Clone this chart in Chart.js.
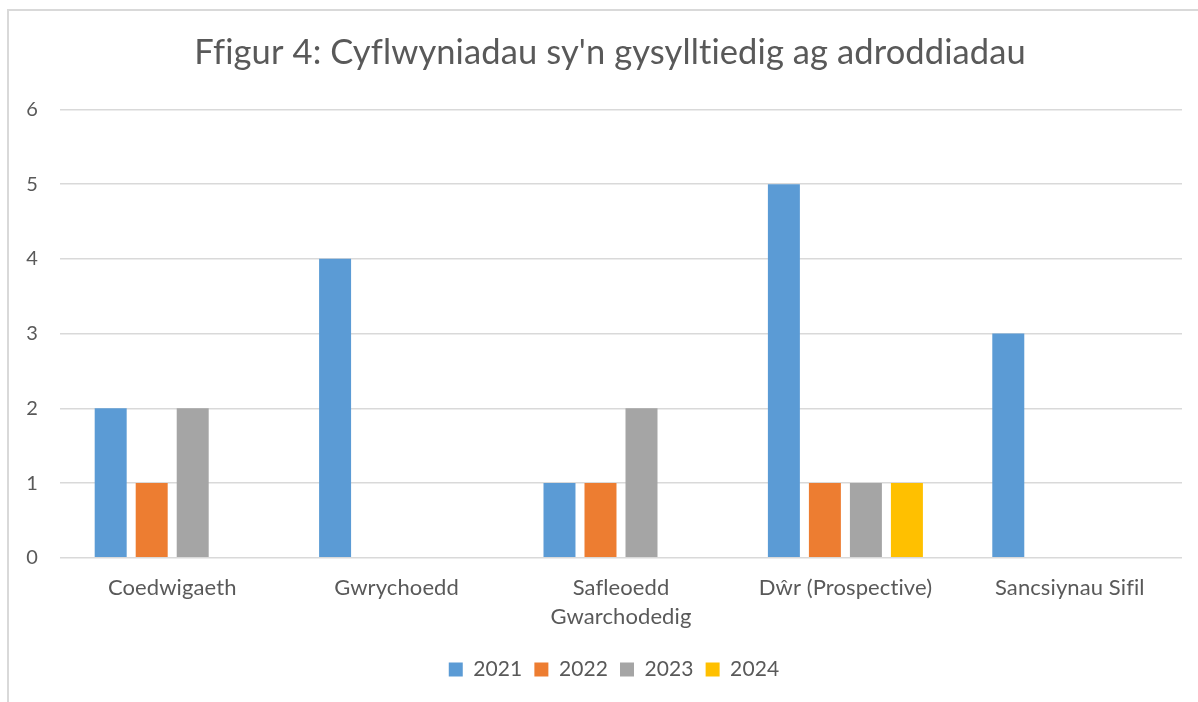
<!DOCTYPE html>
<html>
<head>
<meta charset="utf-8">
<style>
  html, body { margin: 0; padding: 0; background: #fff; overflow: hidden; }
  #wrap { position: relative; width: 1198px; height: 702px; }
</style>
<script src="https://cdn.jsdelivr.net/npm/chart.js@4.4.1/dist/chart.umd.min.js"></script>
</head>
<body>
<div id="wrap"><canvas id="chart" width="1198" height="702"></canvas></div>
<script>
const categories = [
  'Coedwigaeth',
  'Gwrychoedd',
  ['Safleoedd', 'Gwarchodedig'],
  'Dŵr (Prospective)',
  'Sancsiynau Sifil',
];
const seriesNames = ['2021', '2022', '2023', '2024'];
const values2021 = [2, 4, 1, 5, 3];
const values2022 = [1, 0, 1, 1, 0];
const values2023 = [2, 0, 2, 1, 0];
const values2024 = [0, 0, 0, 1, 0];
const seriesColors = ['#5B9BD5', '#ED7D31', '#A5A5A5', '#FFC000'];
const titleText = "Ffigur 4: Cyflwyniadau sy'n gysylltiedig ag adroddiadau";

const textColor = '#595959';
const gridColor = '#D9D9D9';
const fontFamily = 'Lato, "Open Sans", sans-serif';

function noLigatures(ctx) {
    // a tiny letter spacing switches off the fi / ti ligatures of Lato
    if ('letterSpacing' in ctx) ctx.letterSpacing = '0.1px';
}

// Excel-style outer chart frame (cropped at right/bottom)
const framePlugin = {
  id: 'frame',
  beforeUpdate(chart) {
    noLigatures(chart.ctx);
  },
  afterLayout(chart) {
    // the title and legend are centred on the whole frame, not the plot
    if (chart.titleBlock) chart.titleBlock.left += 38;
    if (chart.legend) chart.legend.left += 46;
  },
  beforeDraw(chart) {
    const ctx = chart.ctx;
    ctx.save();
    ctx.fillStyle = '#fff';
    ctx.fillRect(0, 0, chart.width, chart.height);
    ctx.strokeStyle = gridColor;
    ctx.lineWidth = 2;
    ctx.strokeRect(8, 10, chart.width + 20, chart.height + 20);
    ctx.restore();
    noLigatures(ctx);
  },
};

const allValues = [values2021, values2022, values2023, values2024];

new Chart(document.getElementById('chart').getContext('2d'), {
  type: 'bar',
  data: {
    labels: categories,
    datasets: seriesNames.map((name, i) => ({
      label: name,
      data: allValues[i],
      backgroundColor: seriesColors[i],
      borderWidth: 0,
      categoryPercentage: 0.731,
      barPercentage: 0.78,
    })),
  },
  options: {
    responsive: false,
    animation: false,
    layout: { padding: { left: 0, right: 16, top: 0, bottom: 12 } },
    plugins: {
      title: {
        display: true,
        text: titleText,
        color: textColor,
        font: { family: fontFamily, size: 34.5, weight: 'normal' },
        padding: { top: 32, bottom: 36 },
      },
      legend: {
        position: 'bottom',
        labels: {
          color: textColor,
          font: { family: fontFamily, size: 21 },
          boxWidth: 14,
          boxHeight: 14,
          padding: 12,
        },
      },
      tooltip: { enabled: false },
    },
    scales: {
      x: {
        grid: { display: false },
        border: { display: false },
        ticks: {
          color: textColor,
          font: { family: fontFamily, size: 22, lineHeight: 1.3 },
          padding: 8,
          maxRotation: 0,
        },
        afterFit(axis) {
          axis.height += 8;
        },
      },
      y: {
        min: 0,
        max: 6,
        ticks: {
          stepSize: 1,
          color: textColor,
          font: { family: fontFamily, size: 20 },
          padding: 22,
        },
        grid: { color: gridColor, lineWidth: 1.5, drawTicks: false },
        border: { display: false },
        afterFit(axis) {
          axis.width = 60;
        },
      },
    },
  },
  plugins: [framePlugin],
});
</script>
</body>
</html>
